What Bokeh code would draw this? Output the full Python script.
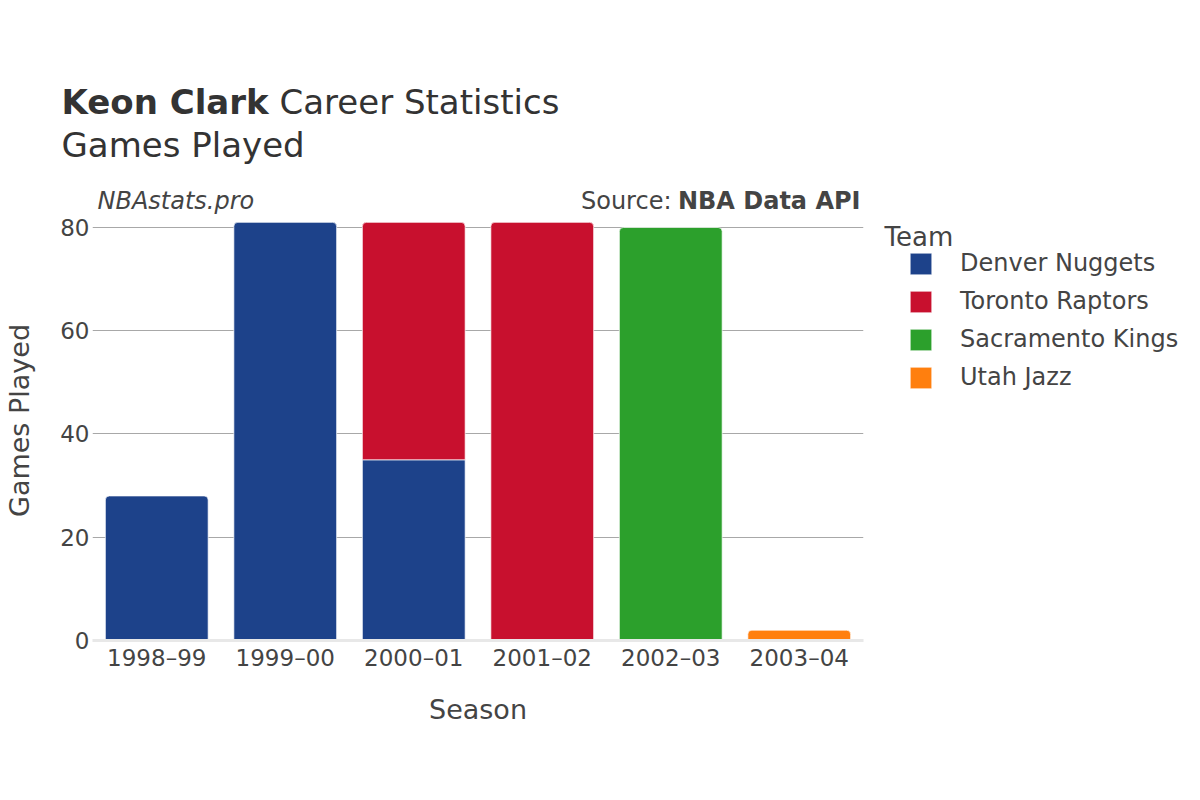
from bokeh.plotting import figure
from bokeh.models import (ColumnDataSource, FactorRange, Range1d, Label, Legend,
                          LegendItem, FixedTicker)
from bokeh.embed import file_html
from bokeh.resources import INLINE

# ---- data ----
seasons = ["1998–99", "1999–00", "2000–01", "2001–02", "2002–03", "2003–04"]
teams = ["Denver Nuggets", "Toronto Raptors", "Sacramento Kings", "Utah Jazz"]
denver = [28, 81, 35, 0, 0, 0]
toronto = [0, 0, 46, 81, 0, 0]
sacramento = [0, 0, 0, 0, 80, 0]
utah = [0, 0, 0, 0, 0, 2]
team_values = [denver, toronto, sacramento, utah]
team_colors = ["#1D428A", "#C8102E", "#2CA02C", "#FF7F0E"]
y_ticks = [0, 20, 40, 60, 80]

FONT = "DejaVu Sans"
TXT = "#444444"

W, H = 1184, 784
FL, FR, FT, FB = 92, 863, 200, 640  # frame edges in px

p = figure(width=W, height=H, frame_width=FR - FL, frame_height=FB - FT,
           output_backend="svg", toolbar_location=None,
           x_range=FactorRange(*seasons, range_padding=0),
           y_range=Range1d(0, 85.23),
           min_border_left=FL, min_border_right=W - FR,
           min_border_top=FT, min_border_bottom=H - FB)
p.outline_line_color = None
p.background_fill_color = "white"
p.border_fill_color = "white"

# stacking
n = len(seasons)
bottoms = [0] * n
totals = [sum(tv[i] for tv in team_values) for i in range(n)]
legend_items = []
for team, vals, col in zip(teams, team_values, team_colors):
    top_d = dict(x=[], b=[], t=[])
    mid_d = dict(x=[], b=[], t=[])
    for i in range(n):
        v = vals[i]
        if v <= 0:
            continue
        b = bottoms[i]
        t = b + v
        d = top_d if t == totals[i] else mid_d
        d["x"].append(seasons[i]); d["b"].append(b); d["t"].append(t)
        bottoms[i] = t
    rends = []
    for d, rad in ((mid_d, 0), (top_d, 4)):
        if d["x"]:
            r = p.vbar(x="x", bottom="b", top="t", width=0.8, source=ColumnDataSource(d),
                       fill_color=col, line_color="white", line_width=0.7,
                       border_radius=(rad, rad, 0, 0))
            rends.append(r)
    legend_items.append(LegendItem(label=team, renderers=rends))

# axes
p.yaxis.ticker = FixedTicker(ticks=y_ticks)
p.ygrid.ticker = FixedTicker(ticks=[t for t in y_ticks if t > 0])
p.ygrid.grid_line_color = "#A8A8A8"
p.ygrid.grid_line_width = 1
p.xgrid.grid_line_color = None

p.yaxis.axis_line_color = None
p.yaxis.major_tick_line_color = None
p.yaxis.minor_tick_line_color = None
p.yaxis.major_label_standoff = -3
p.yaxis.major_label_text_font = FONT
p.yaxis.major_label_text_font_size = "23px"
p.yaxis.major_label_text_color = TXT
p.yaxis.axis_label = "Games Played"
p.yaxis.axis_label_text_font = FONT
p.yaxis.axis_label_text_font_style = "normal"
p.yaxis.axis_label_text_font_size = "27px"
p.yaxis.axis_label_text_color = TXT
p.yaxis.axis_label_standoff = 22

p.xaxis.axis_line_color = "#E8E8E8"
p.xaxis.axis_line_width = 3
p.xaxis.major_tick_line_color = None
p.xaxis.minor_tick_line_color = None
p.xaxis.major_label_standoff = -2
p.xaxis.major_label_text_font = FONT
p.xaxis.major_label_text_font_size = "23px"
p.xaxis.major_label_text_color = TXT
p.xaxis.axis_label = "Season"
p.xaxis.axis_label_text_font = FONT
p.xaxis.axis_label_text_font_style = "normal"
p.xaxis.axis_label_text_font_size = "27px"
p.xaxis.axis_label_text_color = TXT
p.xaxis.axis_label_standoff = 20

# legend (outside the frame, in the right panel)
legend = Legend(items=legend_items, location="top_left",
                orientation="vertical", glyph_width=27, glyph_height=27,
                label_height=38, spacing=0, label_standoff=26, padding=0, margin=44,
                border_line_color=None, background_fill_color=None,
                label_text_font=FONT, label_text_font_size="24px",
                label_text_color=TXT)
p.add_layout(legend, "right")

def lab(x, y, text, size, style="normal", align="left", color=TXT, side="above"):
    p.add_layout(Label(x=x, y=y, x_units="canvas", y_units="canvas", text=text,
                       text_font=FONT, text_font_size=size, text_font_style=style,
                       text_align=align, text_baseline="alphabetic", text_color=color),
                 side)

lab(61, 101, "Keon Clark", "34px", "bold", color="#333333")
lab(279, 101, "Career Statistics", "34px", color="#333333")
lab(61, 144, "Games Played", "34px", color="#333333")
lab(97, 200, "NBAstats.pro", "24px", "italic")
lab(884, 236, "Team", "26px")
lab(860, 200, "NBA Data API", "24px", "bold", align="right", side="below")
lab(671, 200, "Source:", "24px", align="right", side="below")

open("out.html", "w").write(file_html(p, INLINE))
